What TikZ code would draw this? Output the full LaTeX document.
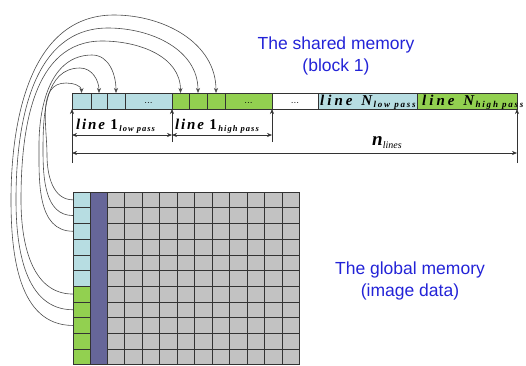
\documentclass[tikz,border=0pt]{standalone}
\usepackage{fontspec}
\newfontfamily\titlefont{Liberation Sans}
\newfontfamily\labfont[LetterSpace=12]{Liberation Serif}
\newfontfamily\labfontw[LetterSpace=20]{Liberation Serif}
\newfontfamily\nfont{Liberation Serif}
\usetikzlibrary{arrows.meta}
\definecolor{lb}{RGB}{183,221,226}
\definecolor{gr}{RGB}{146,208,80}
\definecolor{pu}{RGB}{102,102,153}
\definecolor{gy}{RGB}{194,194,194}
\definecolor{ttlblue}{RGB}{35,35,215}
\newcommand{\linelab}[2]{{\labfont\fontsize{15}{18}\selectfont\bfseries\itshape line #1}{\labfont\fontsize{8.5}{10}\selectfont\bfseries\itshape\,\raisebox{-2.5pt}{#2}}}
\newcommand{\linelabw}[2]{{\labfontw\fontsize{15}{18}\selectfont\bfseries\itshape line\hspace{2pt} #1}{\labfontw\fontsize{9}{10}\selectfont\bfseries\itshape\,\raisebox{-2.5pt}{#2}}}
\begin{document}
\begin{tikzpicture}[x=1pt,y=-1pt,
  cellbox/.style={draw=black!80, line width=0.6pt, inner sep=0pt, outer sep=0pt, anchor=north west},
  dotsbox/.style={cellbox, font=\fontsize{10}{12}\selectfont},
  link/.style={draw=black!70, line width=0.6pt, -{Stealth[length=5pt,width=4pt]}},
  tick/.style={draw=black!80, line width=0.6pt, -{Stealth[length=5pt,width=4pt]}},
  dimline/.style={draw=black!80, line width=0.6pt, {Stealth[length=5pt,width=4pt]}-{Stealth[length=5pt,width=4pt]}},
  gline/.style={draw=black!80, line width=0.6pt},
  title/.style={align=center, text=ttlblue, font=\titlefont\fontsize{17.5}{22}\selectfont}]
\useasboundingbox (0,0) rectangle (526,365);

% shared memory bar
\node[cellbox, fill=lb, minimum width=19pt, minimum height=16pt] (t1) at (72,93) {};
\node[cellbox, fill=lb, minimum width=16pt, minimum height=16pt] (t2) at (91,93) {};
\node[cellbox, fill=lb, minimum width=18pt, minimum height=16pt] (t3) at (107,93) {};
\node[dotsbox, fill=lb, minimum width=47pt, minimum height=16pt] (t4) at (125,93) {\strut...};
\node[cellbox, fill=gr, minimum width=17pt, minimum height=16pt] (t5) at (172,93) {};
\node[cellbox, fill=gr, minimum width=18pt, minimum height=16pt] (t6) at (189,93) {};
\node[cellbox, fill=gr, minimum width=18pt, minimum height=16pt] (t7) at (207,93) {};
\node[dotsbox, fill=gr, minimum width=47pt, minimum height=16pt] (t8) at (225,93) {\strut...};
\node[dotsbox, fill=white, minimum width=46pt, minimum height=16pt] (t9) at (272,93) {\strut...};
\node[cellbox, fill=lb, minimum width=99pt, minimum height=16pt] (t10) at (318,93) {};
\node[cellbox, fill=gr, minimum width=100pt, minimum height=16pt] (t11) at (417,93) {};
\node[anchor=base west, inner sep=0pt] (n10) at (320,105) {\linelabw{\itshape N}{low pass}};
\node[anchor=base west, inner sep=0pt] (n11) at (422,105) {\linelabw{\itshape N}{high pass}};

% global memory grid
\foreach \i in {1,...,6}
  \node[cellbox, fill=lb, minimum width=17pt, minimum height=15.7pt] (g\i) at (73,{192+(\i-1)*15.7}) {};
\foreach \i in {7,...,11}
  \node[cellbox, fill=gr, minimum width=17pt, minimum height=15.7pt] (g\i) at (73,{192+(\i-1)*15.7}) {};
\node[cellbox, fill=pu, minimum width=17pt, minimum height=172.7pt] (pc) at (90,192) {};
\node[cellbox, fill=gy, minimum width=192.7pt, minimum height=172.7pt] (ga) at (107,192) {};
\foreach \k in {1,...,10}
  \draw[gline] ({107+\k*17.52},192) -- ++(0,172.7);
\foreach \k in {1,...,10}
  \draw[gline] (107,{192+\k*15.7}) -- ++(192.7,0);

% curves
\coordinate (L1) at (47,155); \coordinate (A1) at (66,83);
\coordinate (L2) at (43,150); \coordinate (A2) at (80,68);
\coordinate (L3) at (39,145); \coordinate (A3) at (92,55);
\coordinate (L7) at (21,200); \coordinate (A7) at (102,41);
\coordinate (L8) at (16,200); \coordinate (A8) at (108,28);
\coordinate (L9) at (11,200); \coordinate (A9) at (114,15);
\draw[link] (g1.west) to[out=180,in=-90] (L1) to[out=90,in=180] (A1) to[out=0,in=90] (t1.north);
\draw[link] (g2.west) to[out=180,in=-90] (L2) to[out=90,in=180] (A2) to[out=0,in=90] (t2.north);
\draw[link] (g3.west) to[out=180,in=-90] (L3) to[out=90,in=180] (A3) to[out=0,in=90] (t3.north);
\draw[link] (g7.west) to[out=180,in=-90] (L7) to[out=90,in=180] (A7) to[out=0,in=90] (t5.north);
\draw[link] (g8.west) to[out=180,in=-90] (L8) to[out=90,in=180] (A8) to[out=0,in=90] (t6.north);
\draw[link] (g9.west) to[out=180,in=-90] (L9) to[out=90,in=180] (A9) to[out=0,in=90] (t7.north);

% dimension marks
\coordinate (v1) at (72,163); \coordinate (v2) at (172,142);
\coordinate (v3) at (272,142); \coordinate (v4) at (517,163);
\draw[tick] (v1) -- (t1.south west);
\draw[tick] (v2) -- (t5.south west);
\draw[tick] (v3) -- (t9.south west);
\draw[tick] (v4) -- (t11.south east);
\coordinate (a1) at (72,135); \coordinate (a2) at (172,135); \coordinate (a3) at (272,135);
\coordinate (b1) at (72,153); \coordinate (b2) at (517,153);
\draw[dimline] (a1) -- (a2);
\draw[dimline] (a2) -- (a3);
\draw[dimline] (b1) -- (b2);
\node[anchor=base west, inner sep=0pt] (lab1) at (76,129) {\linelab{\upshape 1}{low pass}};
\node[anchor=base west, inner sep=0pt] (lab2) at (175,129) {\linelab{\upshape 1}{high pass}};
\node[anchor=base west, inner sep=0pt] (nl) at (372,145) {\nfont\fontsize{19}{20}\selectfont\bfseries\itshape n\fontsize{10}{11}\selectfont\mdseries\raisebox{-3pt}{lines}};

% titles
\node[title] (sm) at (336,56) {The shared memory\\(block 1)};
\node[title] (gm) at (410,281) {The global memory\\(image data)};
\end{tikzpicture}
\end{document}
